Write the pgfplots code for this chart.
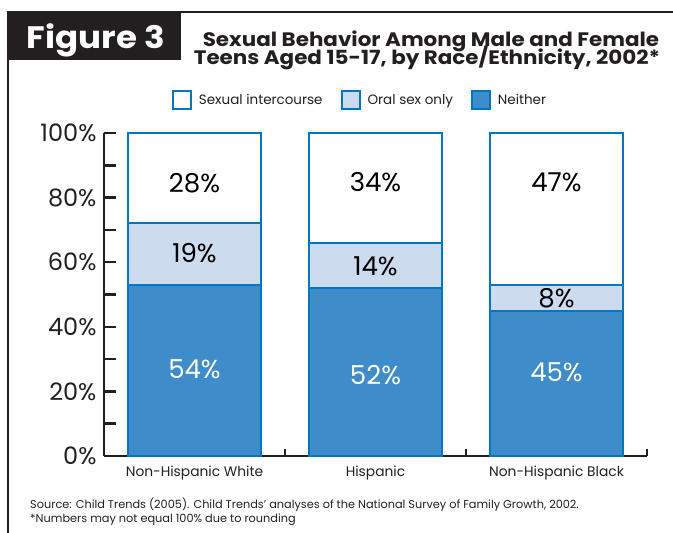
\documentclass[border=0pt]{standalone}
\usepackage{pgfplots}
\pgfplotsset{compat=1.18}
\usepackage{pgfplotstable}
\usepackage{fontspec}
\setmainfont{Poppins}
\newfontfamily\heavy{Poppins}[FakeStretch=1.1]
\definecolor{neither}{RGB}{63,140,202}
\definecolor{oral}{RGB}{204,220,238}
\definecolor{edge}{RGB}{0,119,192}
\definecolor{ink}{RGB}{35,31,32}
\pgfplotsset{
  sqlegend/.style={legend image code/.code={\draw[##1, line width=2pt] (0pt,-9pt) rectangle (18pt,9pt);}},
  geom/.style={at={(104pt,77pt)}, anchor=south west,
    scale only axis, width=543pt, height=323pt,
    xmin=-0.5, xmax=2.5, ymin=0, ymax=100,
    enlargelimits=false, clip=false},
}

\pgfplotstableread{
x neither oral sex
0 53 19 28
1 52 14 34
2 45 8 47
}\datatable

\pgfplotstableread{
x y v
0 27 54
1 25 52
2 26 45
}\whitelabels

\pgfplotstableread{
x y v
0 62.8 19
0 84.5 28
1 58.8 14
1 84.8 34
2 49 8
2 84.8 47
}\blacklabels

\begin{document}
\begin{tikzpicture}
\useasboundingbox (0pt,0pt) rectangle (673pt,533pt);
% frame
\draw[ink, line width=2.5pt] (8pt,0pt) -- (8pt,521pt) -- (673pt,521pt);
\fill[ink] (8pt,473pt) rectangle (181pt,522pt);
\node[white, anchor=base, font=\heavy\bfseries\fontsize{31}{31}\selectfont] at (96pt,484pt) {Figure 3};
\node[ink, anchor=base, font=\heavy\bfseries\fontsize{19.5}{19.5}\selectfont] at (431pt,486pt) {Sexual Behavior Among Male and Female};
\node[ink, anchor=base, font=\heavy\bfseries\fontsize{19.5}{19.5}\selectfont] at (427pt,468pt) {Teens Aged 15-17, by Race/Ethnicity, 2002*};
\node[ink, anchor=base west, font=\fontsize{11.3}{11.3}\selectfont, inner sep=0pt] at (30pt,24pt) {Source: Child Trends (2005). Child Trends’ analyses of the National Survey of Family Growth, 2002.};
\node[ink, anchor=base west, font=\fontsize{11.3}{11.3}\selectfont, inner sep=0pt] at (30pt,10pt) {*Numbers may not equal 100\% due to rounding};

\begin{axis}[
  geom,
  ybar stacked, bar width=0.735,
  axis lines*=left,
  axis line style={ink, line width=2.5pt},
  tick style={ink, line width=2.5pt},
  tick align=inside,
  xtick={-0.5,0.5,1.5,2.5}, x tick label as interval,
  xticklabels={Non-Hispanic White, Hispanic, Non-Hispanic Black},
  xticklabel style={font=\fontsize{13.8}{13.8}\selectfont, text=ink, yshift=-6pt},
  ytick={0,20,...,100},
  minor ytick={0,10,...,100},
  major tick length=7pt, minor tick length=12pt,
  /pgf/number format/assume math mode=true,
  yticklabel={\pgfmathprintnumber{\tick}\%},
  yticklabel style={font=\fontsize{24}{24}\selectfont, text=ink, xshift=-4pt},
  legend columns=3,
  reverse legend,
  legend style={draw=none, fill=none, at={(0.4715,1.102)}, anchor=center,
    font=\fontsize{13.5}{13.5}\selectfont, text=ink,
    /tikz/every odd column/.append style={column sep=5pt},
    /tikz/every even column/.append style={column sep=16pt}},
]
\addplot[fill=neither, draw=edge, line width=2pt, sqlegend]
  table[x=x, y=neither]{\datatable};
\addlegendentry{Neither}
\addplot[fill=oral, draw=edge, line width=2pt, sqlegend]
  table[x=x, y=oral]{\datatable};
\addlegendentry{Oral sex only}
\addplot[fill=white, draw=edge, line width=2pt, sqlegend]
  table[x=x, y=sex]{\datatable};
\addlegendentry{Sexual intercourse}
\end{axis}

\begin{axis}[geom, hide axis, /pgf/number format/assume math mode=true]
\addplot[only marks, mark=none, point meta=explicit,
  nodes near coords={\pgfmathprintnumber{\pgfplotspointmeta}\%},
  nodes near coords align=center,
  every node near coord/.append style={anchor=center, text=white, font=\fontsize{26}{26}\selectfont}]
  table[x=x, y=y, meta=v]{\whitelabels};
\addplot[only marks, mark=none, point meta=explicit,
  nodes near coords={\pgfmathprintnumber{\pgfplotspointmeta}\%},
  nodes near coords align=center,
  every node near coord/.append style={anchor=center, text=black, font=\fontsize{26}{26}\selectfont}]
  table[x=x, y=y, meta=v]{\blacklabels};
\end{axis}
\end{tikzpicture}
\end{document}
